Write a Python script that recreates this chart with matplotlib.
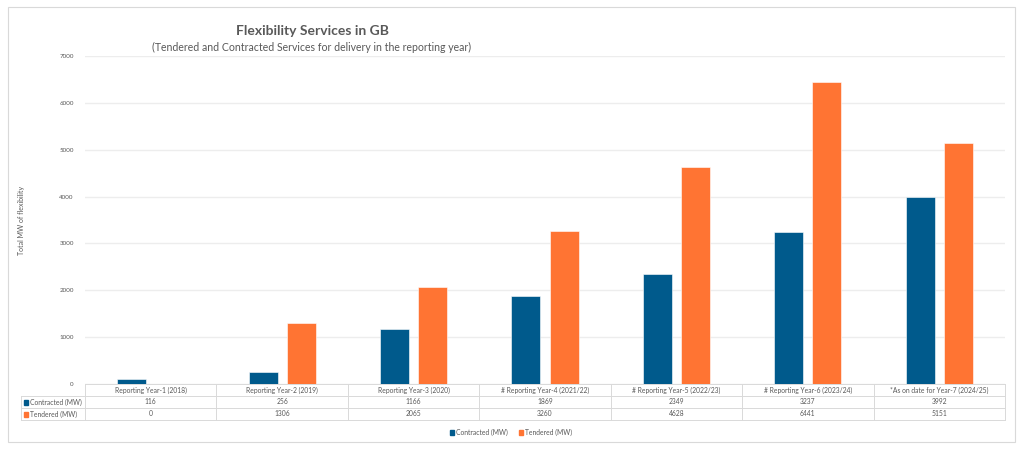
import matplotlib
matplotlib.use("Agg")
import matplotlib.pyplot as plt
import numpy as np
from matplotlib.patches import Rectangle
from matplotlib.lines import Line2D

categories = ["Reporting Year-1 (2018)", "Reporting Year-2 (2019)", "Reporting Year-3 (2020)",
              "# Reporting Year-4 (2021/22)", "# Reporting Year-5 (2022/23)",
              "# Reporting Year-6 (2023/24)", "*As on date for Year-7 (2024/25)"]
contracted = [116, 256, 1166, 1869, 2349, 3237, 3992]
tendered = [0, 1306, 2065, 3260, 4628, 6441, 5151]
series_names = ["Contracted (MW)", "Tendered (MW)"]
yticks = [0, 1000, 2000, 3000, 4000, 5000, 6000, 7000]

blue = "#005A8C"
orange = "#FF7433"
grid_c = "#EDEDED"
line_c = "#D9D9D9"
text_c = "#595959"

plt.rcParams['font.family'] = ['Lato', 'DejaVu Sans']

W, H = 1024, 449
fig = plt.figure(figsize=(W / 100, H / 100), dpi=100)

def fx(px):
    return px / W

def fy(py):
    return 1 - py / H

# plot area in pixels
x0, x1 = 85, 1005
y_top, y_bot = 56, 384
ax = fig.add_axes([fx(x0), fy(y_bot), fx(x1) - fx(x0), fy(y_top) - fy(y_bot)])

n = len(categories)
x = np.arange(n) + 0.5
bw = 0.22
off = 0.145
ax.bar(x - off, contracted, bw, color=blue, edgecolor="white", linewidth=0.4, zorder=3)
ax.bar(x + off, tendered, bw, color=orange, edgecolor="white", linewidth=0.4, zorder=3)

ax.set_xlim(0, n)
ax.set_ylim(0, 7000)
ax.set_yticks(yticks)
ax.set_yticklabels([str(v) for v in yticks], fontsize=4.5, color=text_c)
ax.tick_params(axis="y", length=0, pad=8)
ax.set_xticks([])
ax.grid(axis="y", color=grid_c, linewidth=1.0, zorder=0)
for s in ax.spines.values():
    s.set_visible(False)

# outer border
fig.patches.append(Rectangle((fx(8), fy(442)), fx(1015) - fx(8), fy(7) - fy(442),
                             transform=fig.transFigure, fill=False,
                             edgecolor=line_c, linewidth=0.8))

# titles
fig.text(fx(313), fy(31), "Flexibility Services in GB", ha="center", va="center",
         fontsize=10, fontweight="bold", color="#595959")
fig.text(fx(312), fy(47), "(Tendered and Contracted Services for delivery in the reporting year)",
         ha="center", va="center", fontsize=7.6, color="#595959")

# y label
fig.text(fx(22), fy(220), "Total MW of flexibility", rotation=90, ha="center", va="center",
         fontsize=5, color=text_c)

# data table
row_h = 12
cw = (x1 - x0) / n
rows_top = y_bot
lab_left = 21
fs_tab = 4.9
hl = [(x0, x1, rows_top), (lab_left, x1, rows_top + row_h),
      (lab_left, x1, rows_top + 2 * row_h), (lab_left, x1, rows_top + 3 * row_h)]
for a, b, yy in hl:
    fig.add_artist(Line2D([fx(a), fx(b)], [fy(yy), fy(yy)], color=line_c, linewidth=0.7,
                          transform=fig.transFigure))
for i in range(n + 1):
    xx = x0 + i * cw
    fig.add_artist(Line2D([fx(xx), fx(xx)], [fy(rows_top), fy(rows_top + 3 * row_h)],
                          color=line_c, linewidth=0.7, transform=fig.transFigure))
fig.add_artist(Line2D([fx(lab_left), fx(lab_left)], [fy(rows_top + row_h), fy(rows_top + 3 * row_h)],
                      color=line_c, linewidth=0.7, transform=fig.transFigure))

for i, cat in enumerate(categories):
    cx = x0 + (i + 0.5) * cw
    fig.text(fx(cx), fy(rows_top + row_h / 2), cat, ha="center", va="center",
             fontsize=fs_tab, color=text_c)
    fig.text(fx(cx), fy(rows_top + 1.5 * row_h), str(contracted[i]), ha="center", va="center",
             fontsize=fs_tab, color=text_c)
    fig.text(fx(cx), fy(rows_top + 2.5 * row_h), str(tendered[i]), ha="center", va="center",
             fontsize=fs_tab, color=text_c)

for r, (name, col) in enumerate(zip(series_names, [blue, orange])):
    yy = rows_top + (1.5 + r) * row_h
    fig.patches.append(Rectangle((fx(24), fy(yy + 2.5)), fx(4), 5 / H, color=col,
                                 transform=fig.transFigure))
    fig.text(fx(30), fy(yy), name, ha="left", va="center", fontsize=fs_tab, color=text_c)

# legend
leg_items = [(450, series_names[0], blue), (519, series_names[1], orange)]
for lx, name, col in leg_items:
    fig.patches.append(Rectangle((fx(lx), fy(434.5)), fx(4), 5 / H, color=col,
                                 transform=fig.transFigure))
    fig.text(fx(lx + 6), fy(432), name, ha="left", va="center", fontsize=fs_tab, color=text_c)

fig.savefig("out.png", dpi=100)
